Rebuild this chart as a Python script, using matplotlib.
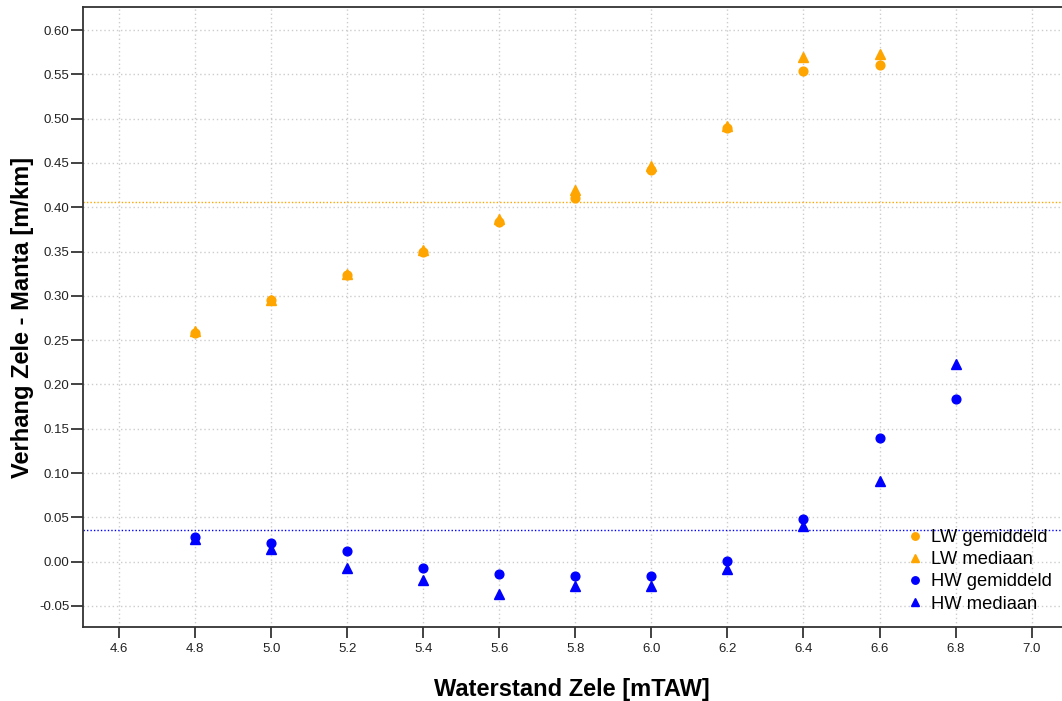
import matplotlib
matplotlib.use("Agg")
import matplotlib.pyplot as plt

waterstand = [4.8, 5.0, 5.2, 5.4, 5.6, 5.8, 6.0, 6.2, 6.4, 6.6]
lw_gemiddeld = [0.258, 0.295, 0.323, 0.349, 0.383, 0.410, 0.442, 0.490, 0.554, 0.560]
lw_mediaan = [0.260, 0.295, 0.325, 0.352, 0.387, 0.420, 0.446, 0.492, 0.570, 0.573]

waterstand_hw = [4.8, 5.0, 5.2, 5.4, 5.6, 5.8, 6.0, 6.2, 6.4, 6.6, 6.8]
hw_gemiddeld = [0.028, 0.021, 0.012, -0.007, -0.014, -0.016, -0.016, 0.001, 0.048, 0.139, 0.184]
hw_mediaan = [0.026, 0.014, -0.007, -0.021, -0.037, -0.027, -0.027, -0.008, 0.040, 0.091, 0.223]

lw_ref = 0.406
hw_ref = 0.0355

xticks = [4.6, 4.8, 5.0, 5.2, 5.4, 5.6, 5.8, 6.0, 6.2, 6.4, 6.6, 6.8, 7.0]
yticks = [-0.05, 0.0, 0.05, 0.10, 0.15, 0.20, 0.25, 0.30, 0.35, 0.40, 0.45, 0.50, 0.55, 0.60]

plt.rcParams['font.family'] = ['Liberation Sans', 'DejaVu Sans']

fig = plt.figure(figsize=(10.62, 7.01), dpi=100)
ax = fig.add_axes([0.0779, 0.105, 0.9221, 0.885])

orange = '#FFA500'
blue = '#0000FF'
ax.axhline(lw_ref, color=orange, linestyle=(0, (1, 1.5)), linewidth=1.0, zorder=2)
ax.axhline(hw_ref, color=blue, linestyle=(0, (1, 1.5)), linewidth=1.0, zorder=2)

ax.plot(waterstand, lw_gemiddeld, 'o', color=orange, markersize=6.3, linestyle='none', label='LW gemiddeld', zorder=3)
ax.plot(waterstand, lw_mediaan, '^', color=orange, markersize=7.5, linestyle='none', label='LW mediaan', zorder=3)
ax.plot(waterstand_hw, hw_gemiddeld, 'o', color=blue, markersize=6.3, linestyle='none', label='HW gemiddeld', zorder=3)
ax.plot(waterstand_hw, hw_mediaan, '^', color=blue, markersize=7.5, linestyle='none', label='HW mediaan', zorder=3)

ax.set_xlim(4.504, 7.08)
ax.set_ylim(-0.0742, 0.626)
ax.set_xticks(xticks)
ax.set_yticks(yticks)
ax.set_xticklabels([f"{v:.1f}" for v in xticks])
ax.set_yticklabels([f"{v:.2f}" for v in yticks])
ax.tick_params(axis='both', labelsize=9.5, direction='out', width=1.2, colors='#222222')
ax.tick_params(axis='y', length=9, pad=0.5)
ax.tick_params(axis='x', length=8, pad=3)

ax.grid(True, color='#cccccc', linestyle=(0, (1, 2)), linewidth=1.0, zorder=0)
ax.set_axisbelow(True)

for s in ['left', 'bottom', 'top']:
    ax.spines[s].set_linewidth(1.3)
    ax.spines[s].set_color('#333333')
ax.spines['right'].set_visible(False)

ax.set_xlabel('Waterstand Zele [mTAW]', fontsize=17, fontweight='bold', labelpad=17)
ax.set_ylabel('Verhang Zele - Manta [m/km]', fontsize=17, fontweight='bold', labelpad=4)

leg = ax.legend(loc='lower right', frameon=False, fontsize=13.2, handletextpad=0.25,
                labelspacing=0.28, borderaxespad=0.0, handlelength=1.2, markerscale=0.85,
                bbox_to_anchor=(0.997, 0.012))

fig.savefig('out.png', dpi=100)
